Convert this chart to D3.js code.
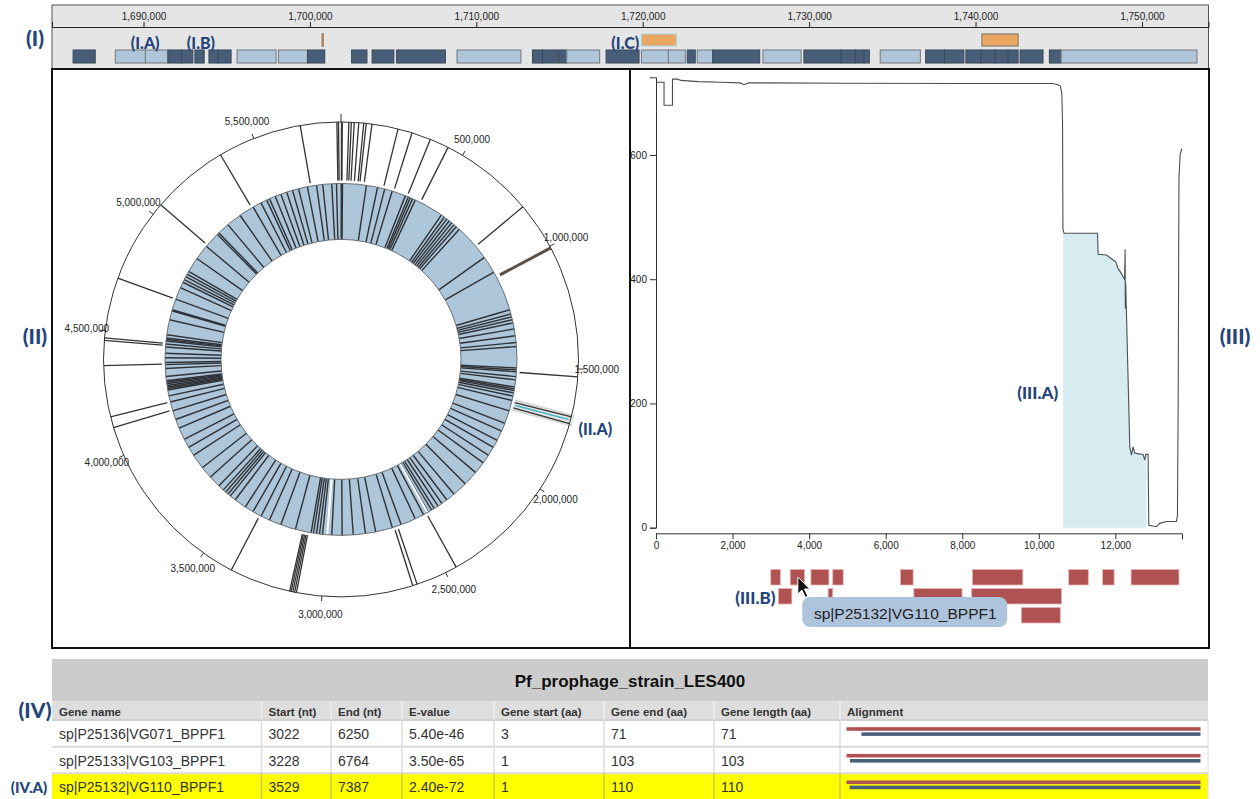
<!DOCTYPE html>
<html><head><meta charset="utf-8">
<script src="https://cdn.jsdelivr.net/npm/d3@7"></script>
<style>
html,body{margin:0;padding:0;background:#fff;}
svg{display:block;}
</style></head><body>
<svg id="chart" width="1260" height="799"></svg>
<script>
// ================= DATA =================
// Panel I : genomic window around the prophage
const regionDomain = [1684500, 1754000];
const regionTicks = [1690000,1700000,1710000,1720000,1730000,1740000,1750000];
const geneStart = [1685769,1688306,1690115,1691474,1692292,1693091,1693933,1694468,1695622,1698111,
  1699855,1702506,1703738,1705211,1708837,1713376,1713983,1714951,1715432,1717800,
  1719923,1721546,1722676,1723277,1724203,1727221,1729686,1731929,1732776,1733305,
  1734273,1737003,1738139,1739420,1740309,1741181,1741957,1742678,1744440,1745143];
const geneEnd = [1687097,1690115,1691444,1692292,1692965,1693644,1694468,1695261,1697967,1699855,
  1700889,1703426,1705043,1708139,1712678,1713983,1714903,1715432,1717410,1719778,
  1721546,1722556,1723157,1724203,1727029,1729518,1731929,1732776,1733305,1733618,
  1736684,1738139,1739299,1740309,1741181,1741957,1742558,1744055,1745143,1753307];
const geneKind = ["d","l","l","d","d","d","d","d","l","l","d","d","d","d","l","d","d","d","l","d",
  "l","l","d","l","d","l","d","d","d","d","l","d","d","d","d","d","d","d","d","l"];
const hitStart = [1719923, 1740382];
const hitEnd = [1722026, 1742558];
const markerPos = [1700768];
const regionLabelText = ["(I.A)","(I.B)","(I.C)"];
const regionLabelPos = [1690100, 1693450, 1718950];

// Panel II : circular genome
const genomeLength = 5850000;
const circleTicks = [0,500000,1000000,1500000,2000000,2500000,3000000,3500000,4000000,4500000,5000000,5500000];
const innerFeatureBp = [1500,8000,135000,195000,234000,275000,349000,366000,377000,390000,406000,566000,585000,601000,618000,634000,650000,666000,687000,887000,980000,
  1196000,1219000,1235000,1251000,1268000,1300000,1337000,1373000,1394000,1508000,1518000,1528000,1554000,1571000,1609000,1619000,1628000,1641000,1658000,1682000,1739000,1809000,1853000,1908000,1950000,1999000,
  2048000,2113000,2194000,2275000,2324000,2356000,2381000,2405000,2421000,2441000,2470000,2519000,2600000,2649000,2740000,2795000,2860000,2919000,2974000,
  3023000,3039000,3055000,3071000,3084000,3169000,3250000,3315000,3364000,3413000,3461000,3526000,3559000,3575000,3591000,3608000,3640000,3705000,3770000,3851000,3900000,3949000,
  4014000,4063000,4111000,4160000,4193000,4225000,4233000,4241000,4249000,4258000,4266000,4274000,4297000,4339000,4360000,4371000,4396000,4420000,4453000,4469000,4485000,4493000,4501000,4518000,4599000,4648000,4654000,4713000,4778000,4810000,4826000,4843000,4859000,4875000,4956000,
  5038000,5124000,5135000,5200000,5281000,5363000,5410000,5444000,5460000,5493000,5525000,5558000,5590000,5623000,5671000,5720000,5753000,5801000,5826000];
const ringGapBp = [2446000, 2998000];
const outerFeatureBp = [5833750,5840250,2000,4875,30875,40625,52000,69875,89375,99125,121875,225875,282750,359125,435500,812500,1530750,1690000,1717625,
  2453750,2621125,2639000,3100500,3108000,3115000,3122000,3128000,3371875,4116125,4160000,4363125,4462250,4472000,4712500,5047250,5354375,5689125];
const outerStrongBp = [1007500];
const highlightBp = 1703000;

// Panel III : prophage profile
const covPos = [0,210,210,430,430,560,650,1100,1700,2200,2300,2420,2800,5000,8000,10360,10500,10560,10600,10620,10630,10660,11533,11549,11768,11898,12011,12071,12160,12202,12240,12254,12260,12266,12272,12376,12421,12462,12507,12723,12768,12794,12854,12872,13073,13159,13334,13595,13621,13640,13660,13690,13734];
const covVal = [717,717,680,680,722,722,720,718,717,716,713,716,716,715.5,715,715,713,711,700,650,480,474,474,440,439,433,428,417,409,404,400,448,353,395,388,130,117,130,120,118,109,118,118,4,1.6,7,10,10,20,200,560,600,610];
const profileTicksX = [0,2000,4000,6000,8000,10000,12000];
const profileTicksY = [0,200,400,600];
const shadeRange = [10635, 12812];
const blastStart = [2998,3507,4047,4617,6387,8264,10781,11667,12410, 3199,4496,6736,8245, 9543];
const blastEnd   = [3248,3878,4517,4889,6717,9582,11293,11967,13661, 3548,4617,7995,10593, 10562];
const blastRow   = [0,0,0,0,0,0,0,0,0, 1,1,1,1, 2];
const tooltipText = "sp|P25132|VG110_BPPF1";
const hoveredHit = 1;

// Panel IV : table
const tableTitle = "Pf_prophage_strain_LES400";
const tableColumns = ["Gene name","Start (nt)","End (nt)","E-value","Gene start (aa)","Gene end (aa)","Gene length (aa)","Alignment"];
const geneNames = ["sp|P25136|VG071_BPPF1","sp|P25133|VG103_BPPF1","sp|P25132|VG110_BPPF1"];
const startNt = [3022,3228,3529];
const endNt = [6250,6764,7387];
const eValues = ["5.40e-46","3.50e-65","2.40e-72"];
const geneStartAa = [3,1,1];
const geneEndAa = [71,103,110];
const geneLengthAa = [71,103,110];
const selectedRow = 2;

// ================= DRAWING =================
const svg = d3.select("#chart");
const FONT = "'Liberation Sans', Arial, Helvetica, sans-serif";
const LFONT = "Lato, 'Open Sans', sans-serif";
const NAVY = "#25447a";
const DARK = "#475d78", LIGHT = "#afc6da", RED = "#b05252";

function navyLabel(x, y, txt, size, anchor) {
  svg.append("text").attr("x", x).attr("y", y).text(txt)
    .attr("font-family", LFONT).attr("font-weight", 900).attr("font-size", size)
    .attr("fill", NAVY).attr("text-anchor", anchor || "middle").attr("dominant-baseline", "central");
}

// ---------- Panel I ----------
svg.append("rect").attr("x", 52).attr("y", 5).attr("width", 1156.5).attr("height", 64)
  .attr("fill", "#e5e5e5").attr("stroke", "#555").attr("stroke-width", 1);
const xr = d3.scaleLinear().domain(regionDomain).range([52, 1208.5]);
const axI = svg.append("g").attr("transform", "translate(0,27)")
  .call(d3.axisTop(xr).tickValues(regionTicks).tickFormat(d3.format(",")).tickSize(5).tickSizeOuter(5).tickPadding(2));
axI.attr("font-family", FONT).attr("font-size", 10);
axI.selectAll("text").attr("fill", "#222");
axI.selectAll("line,path").attr("stroke", "#222");

const genes = geneStart.map((s, i) => ({ s, e: geneEnd[i], k: geneKind[i] }));
svg.append("g").selectAll("rect").data(genes).join("rect")
  .attr("x", d => xr(d.s)).attr("width", d => xr(d.e) - xr(d.s))
  .attr("y", 50).attr("height", 13)
  .attr("fill", d => d.k === "d" ? DARK : LIGHT)
  .attr("stroke", d => d.k === "d" ? "#3d4c60" : "#7a7f86").attr("stroke-width", 1.1);

svg.append("g").selectAll("rect").data(hitStart.map((s, i) => ({ s, e: hitEnd[i], i }))).join("rect")
  .attr("x", d => xr(d.s)).attr("width", d => xr(d.e) - xr(d.s))
  .attr("y", 34).attr("height", 12)
  .attr("fill", "#e9a660")
  .attr("stroke", d => d.i === 0 ? "#a7d6d6" : "#8a7a6a").attr("stroke-width", 1.2);
svg.append("g").selectAll("rect").data(markerPos).join("rect")
  .attr("x", d => xr(d) - 1.2).attr("width", 2.4).attr("y", 33).attr("height", 14).attr("fill", "#a8825f");

regionLabelText.forEach((t, i) => navyLabel(xr(regionLabelPos[i]), 42, t, 16));

// ---------- Panel II ----------
const cx = 341, cy = 359.4, R = 237.5, rIn = 120, rOut = 176;
const ang = d3.scaleLinear().domain([0, genomeLength]).range([0, 2 * Math.PI]);
const pt = (bp, r) => [cx + r * Math.sin(ang(bp)), cy - r * Math.cos(ang(bp))];
const g2 = svg.append("g");

g2.append("path").attr("transform", `translate(${cx},${cy})`)
  .attr("d", d3.arc()({ innerRadius: rIn, outerRadius: rOut, startAngle: 0, endAngle: 2 * Math.PI }))
  .attr("fill", "#aec6da").attr("stroke", "none");

function radial(sel, data, r0, r1, color, width) {
  sel.append("g").selectAll("line").data(data).join("line")
    .attr("x1", d => pt(d, r0)[0]).attr("y1", d => pt(d, r0)[1])
    .attr("x2", d => pt(d, r1)[0]).attr("y2", d => pt(d, r1)[1])
    .attr("stroke", color).attr("stroke-width", width);
}
radial(g2, innerFeatureBp, rIn, rOut, "#2f3236", 1.4);
radial(g2, ringGapBp, rIn, rOut, "#ffffff", 2);
g2.append("circle").attr("cx", cx).attr("cy", cy).attr("r", rIn).attr("fill", "none").attr("stroke", "#6a6f75").attr("stroke-width", 1);
g2.append("circle").attr("cx", cx).attr("cy", cy).attr("r", rOut).attr("fill", "none").attr("stroke", "#6a6f75").attr("stroke-width", 1);

// highlight (II.A)
radial(g2, [highlightBp], 179, 240, "#d8d8d8", 12);
radial(g2, [highlightBp], 179, 240, "#e8e8e8", 7);
radial(g2, outerFeatureBp, 179, R, "#333", 1.3);
radial(g2, outerStrongBp, 180, R, "#5a5048", 3);
radial(g2, [highlightBp], 180, R - 2, "#4fb8c6", 1.6);

g2.append("circle").attr("cx", cx).attr("cy", cy).attr("r", R).attr("fill", "none").attr("stroke", "#333").attr("stroke-width", 1);
g2.append("g").selectAll("line").data(circleTicks).join("line")
  .attr("x1", d => pt(d, R)[0]).attr("y1", d => pt(d, R)[1])
  .attr("x2", d => pt(d, d === 0 ? R + 8 : R + 5)[0]).attr("y2", d => pt(d, d === 0 ? R + 8 : R + 5)[1])
  .attr("stroke", "#333").attr("stroke-width", 1);
g2.append("g").selectAll("text").data(circleTicks.filter(d => d > 0)).join("text")
  .attr("x", d => pt(d, 256)[0]).attr("y", d => pt(d, 256)[1])
  .attr("text-anchor", "middle").attr("dominant-baseline", "central")
  .attr("font-family", FONT).attr("font-size", 10).attr("fill", "#222")
  .text(d => d3.format(",")(d));
{
  const p = pt(highlightBp, 263);
  navyLabel(p[0], p[1] + 2, "(II.A)", 16);
}

// ---------- Panel III ----------
const defs = svg.append("defs");
defs.append("clipPath").attr("id", "clip3").append("rect").attr("x", 631).attr("y", 70).attr("width", 577).attr("height", 577);
const g3 = svg.append("g").attr("clip-path", "url(#clip3)");
const xp = d3.scaleLinear().domain([0, 13740]).range([656, 1182]);
const yp = d3.scaleLinear().domain([0, 725]).range([527.7, 77.3]);
const prof = covPos.map((p, i) => [p, covVal[i]]);

const shadePts = [[shadeRange[0], 474]].concat(prof.filter(d => d[0] > shadeRange[0] && d[0] < shadeRange[1])).concat([[shadeRange[1], 118]]);
g3.append("path").datum(shadePts)
  .attr("d", d3.area().x(d => xp(d[0])).y0(yp(0)).y1(d => yp(d[1])))
  .attr("fill", "#d6ecf0");
g3.append("path").datum(prof)
  .attr("d", d3.line().x(d => xp(d[0])).y(d => yp(d[1])))
  .attr("fill", "none").attr("stroke", "#4a4f52").attr("stroke-width", 1.1);

const axY = g3.append("g").attr("transform", "translate(656,0)")
  .call(d3.axisLeft(yp).tickValues(profileTicksY).tickSize(6).tickSizeOuter(6).tickPadding(3));
const axX = g3.append("g").attr("transform", "translate(0,533.3)")
  .call(d3.axisBottom(xp).tickValues(profileTicksX).tickFormat(d3.format(",")).tickSize(6).tickSizeOuter(6).tickPadding(3));
[axY, axX].forEach(a => {
  a.attr("font-family", FONT).attr("font-size", 10);
  a.selectAll("text").attr("fill", "#222");
  a.selectAll("line,path").attr("stroke", "#333");
});

const hits = blastStart.map((s, i) => ({ s, e: blastEnd[i], r: blastRow[i] }));
g3.append("g").selectAll("rect").data(hits).join("rect")
  .attr("x", d => xp(d.s)).attr("width", d => xp(d.e) - xp(d.s))
  .attr("y", d => 569.5 + d.r * 19).attr("height", 15.5)
  .attr("fill", RED).attr("stroke", "#e6b3b3").attr("stroke-width", 0.8);

// tooltip
const hv = hits[hoveredHit];
const tipX = xp(hv.s) + 12, tipY = 597;
g3.append("rect").attr("x", tipX).attr("y", tipY).attr("width", 205).attr("height", 30).attr("rx", 8)
  .attr("fill", "#aec3dc");
g3.append("text").attr("x", tipX + 103).attr("y", tipY + 16).text(tooltipText)
  .attr("text-anchor", "middle").attr("dominant-baseline", "central")
  .attr("font-family", FONT).attr("font-size", 15.5).attr("fill", "#1e1e1e");
// cursor
const cX = (xp(hv.s) + xp(hv.e)) / 2 + 0.5, cY = 577;
g3.append("path").attr("transform", `translate(${cX},${cY})`)
  .attr("d", "M0,0 L0,17 L4,13 L7.5,20.5 L10,19.3 L6.6,12 L12,12 Z")
  .attr("fill", "#111").attr("stroke", "#fff").attr("stroke-width", 1);

navyLabel(xp(shadeRange[0]) - 5, yp(217), "(III.A)", 17, "end");
navyLabel(xp(3199) - 3, 597, "(III.B)", 17, "end");

// panel borders
svg.append("rect").attr("x", 52).attr("y", 69).attr("width", 578).attr("height", 579)
  .attr("fill", "none").attr("stroke", "#111").attr("stroke-width", 2);
svg.append("rect").attr("x", 630).attr("y", 69).attr("width", 579).attr("height", 579)
  .attr("fill", "none").attr("stroke", "#111").attr("stroke-width", 2);

// ---------- Panel IV : table ----------
const colX = [52, 261.5, 331, 402, 494, 604, 714, 840, 1208];
const tTop = 659, headTop = 701.5, rowTop = [720, 746.7, 773.3], tBottom = 799;
const tg = svg.append("g");
tg.append("rect").attr("x", 52).attr("y", tTop).attr("width", 1156).attr("height", headTop - tTop).attr("fill", "#cccccc");
tg.append("text").attr("x", 630).attr("y", (tTop + headTop) / 2 + 1).text(tableTitle)
  .attr("text-anchor", "middle").attr("dominant-baseline", "central")
  .attr("font-family", FONT).attr("font-weight", 700).attr("font-size", 17).attr("fill", "#111");
tg.append("rect").attr("x", 52).attr("y", headTop).attr("width", 1156).attr("height", rowTop[0] - headTop).attr("fill", "#dedede");
tg.selectAll(".hd").data(tableColumns).join("text")
  .attr("x", (d, i) => colX[i] + 7).attr("y", (headTop + rowTop[0]) / 2 + 1).text(d => d)
  .attr("dominant-baseline", "central").attr("font-family", FONT).attr("font-weight", 700)
  .attr("font-size", 11.5).attr("fill", "#333");

const rows = geneNames.map((n, i) => [n, startNt[i], endNt[i], eValues[i], geneStartAa[i], geneEndAa[i], geneLengthAa[i]]);
rows.forEach((r, i) => {
  const top = rowTop[i], bot = i < 2 ? rowTop[i + 1] : tBottom;
  tg.append("rect").attr("x", 52).attr("y", top).attr("width", 1156).attr("height", bot - top)
    .attr("fill", i === selectedRow ? "#ffff00" : "#ffffff");
  r.forEach((v, j) => {
    tg.append("text").attr("x", colX[j] + 7).attr("y", (top + bot) / 2 + 1).text(v)
      .attr("dominant-baseline", "central").attr("font-family", FONT).attr("font-size", 14)
      .attr("fill", "#333");
  });
  const xa = d3.scaleLinear().domain([0, geneLengthAa[i]]).range([846.5, 1200.5]);
  tg.append("rect").attr("x", xa(0)).attr("width", xa(geneLengthAa[i]) - xa(0)).attr("y", top + 7.2).attr("height", 3.6).attr("fill", RED);
  tg.append("rect").attr("x", xa(geneStartAa[i])).attr("width", xa(geneEndAa[i]) - xa(geneStartAa[i])).attr("y", top + 12.3).attr("height", 3.6).attr("fill", "#4b6079");
});
// grid lines
rowTop.forEach((y, i) => {
  tg.append("line").attr("x1", 52).attr("x2", 1208).attr("y1", y).attr("y2", y)
    .attr("stroke", i === 0 ? "#cfcfcf" : "#d9d9d9").attr("stroke-width", 2);
});
colX.slice(1, -1).forEach(x => {
  tg.append("line").attr("x1", x).attr("x2", x).attr("y1", headTop).attr("y2", rowTop[0]).attr("stroke", "#eeeeee").attr("stroke-width", 1.5);
  tg.append("line").attr("x1", x).attr("x2", x).attr("y1", rowTop[0]).attr("y2", rowTop[2]).attr("stroke", "#dcdcdc").attr("stroke-width", 1.5);
  tg.append("line").attr("x1", x).attr("x2", x).attr("y1", rowTop[2]).attr("y2", tBottom).attr("stroke", "#cccc55").attr("stroke-width", 1.5);
});
tg.append("line").attr("x1", 1208).attr("x2", 1208).attr("y1", rowTop[0]).attr("y2", tBottom).attr("stroke", "#dcdcdc").attr("stroke-width", 1);

// panel labels
navyLabel(35, 37, "(I)", 21);
navyLabel(35, 335, "(II)", 21);
navyLabel(1235, 335, "(III)", 21);
navyLabel(35, 709, "(IV)", 21);
navyLabel(29, 787, "(IV.A)", 15);
</script>
</body></html>
